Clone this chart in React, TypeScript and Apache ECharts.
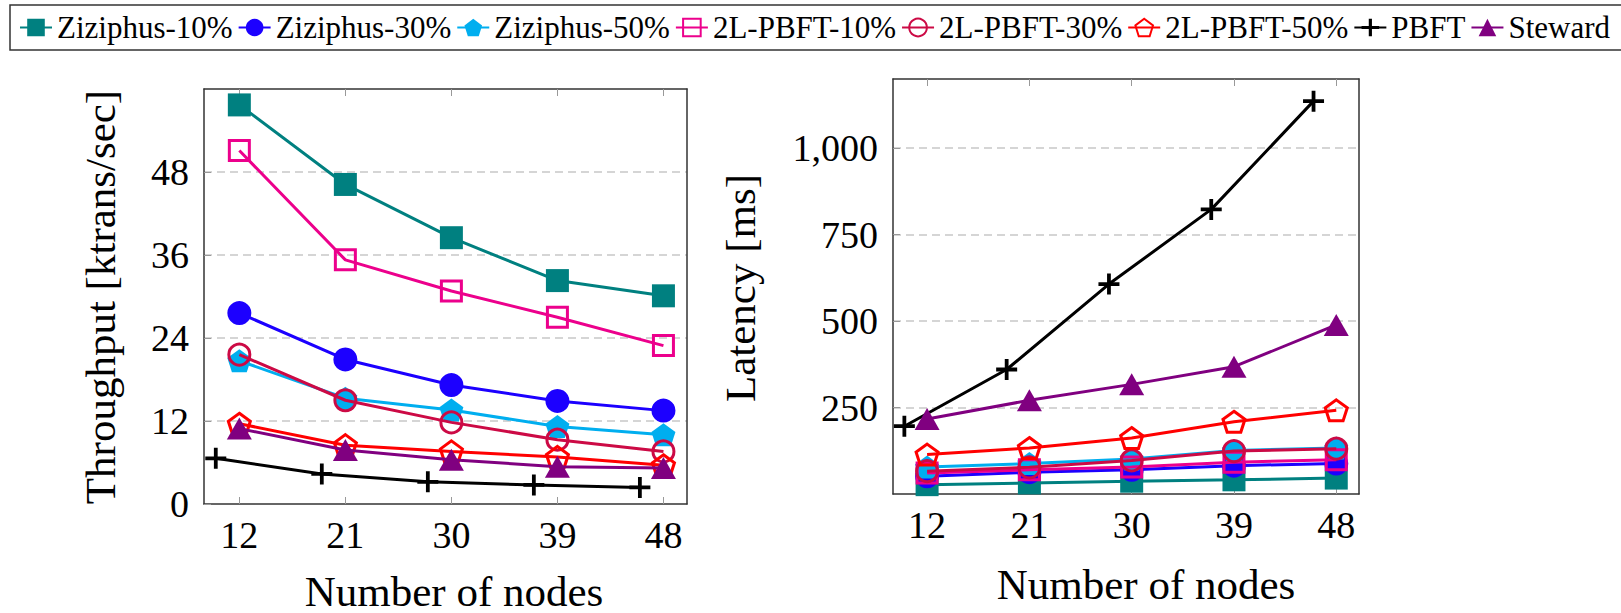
import React, { useEffect, useRef } from "react";
import * as echarts from "echarts";

const nodes = [12, 21, 30, 39, 48];
const pbftNodes = [10, 19, 28, 37, 46];
const xTicks = [12, 21, 30, 39, 48];

const seriesNames = [
  "Ziziphus-10%",
  "Ziziphus-30%",
  "Ziziphus-50%",
  "2L-PBFT-10%",
  "2L-PBFT-30%",
  "2L-PBFT-50%",
  "PBFT",
  "Steward",
];

// Throughput [ktrans/sec]
const thrZ10 = [57.7, 46.2, 38.5, 32.3, 30.1];
const thrZ30 = [27.6, 20.9, 17.2, 14.9, 13.5];
const thrZ50 = [20.7, 15.3, 13.6, 11.2, 10.0];
const thr2L10 = [51.1, 35.3, 30.8, 27.0, 22.9];
const thr2L30 = [21.6, 15.0, 11.8, 9.3, 7.6];
const thr2L50 = [11.6, 8.5, 7.6, 6.8, 5.6];
const thrPBFT = [6.6, 4.35, 3.2, 2.75, 2.4];
const thrSteward = [10.9, 7.8, 6.4, 5.4, 5.2];

// Latency [ms]
const latZ10 = [27, 32, 37, 41, 46];
const latZ30 = [51, 63, 70, 82, 88];
const latZ50 = [78, 88, 101, 126, 133];
const lat2L10 = [61, 70, 78, 92, 99];
const lat2L30 = [66, 77, 97, 124, 131];
const lat2L50 = [114, 133, 162, 209, 242];
const latPBFT = [196, 360, 607, 823, 1136];
const latSteward = [217, 271, 317, 368, 489];

const thrAll = [thrZ10, thrZ30, thrZ50, thr2L10, thr2L30, thr2L50, thrPBFT, thrSteward];
const latAll = [latZ10, latZ30, latZ50, lat2L10, lat2L30, lat2L50, latPBFT, latSteward];

const PENTAGON = "path://M0,-1L0.951,-0.309L0.588,0.809L-0.588,0.809L-0.951,-0.309Z";
const CROSS = "path://M-1.8,-10H1.8V-1.8H10V1.8H1.8V10H-1.8V1.8H-10V-1.8H-1.8Z";

const styles = [
  { color: "#008080", symbol: "rect", size: 23, filled: true },
  { color: "#1c00ff", symbol: "circle", size: 24, filled: true },
  { color: "#00aeef", symbol: PENTAGON, size: [24, 23], filled: true },
  { color: "#ec008c", symbol: "rect", size: 20, filled: false },
  { color: "#cc0a45", symbol: "circle", size: 21, filled: false },
  { color: "#ff0000", symbol: PENTAGON, size: [22, 21], filled: false },
  { color: "#000000", symbol: CROSS, size: 21, filled: true },
  { color: "#800080", symbol: "triangle", size: [25, 22], filled: true },
];

const FONT = "Liberation Serif";

function makeSeries(values: number[][], xAxisIndex: number, yAxisIndex: number) {
  return values.map((vals, i) => {
    const st = styles[i];
    const xs = seriesNames[i] === "PBFT" ? pbftNodes : nodes;
    return {
      name: seriesNames[i],
      type: "line",
      xAxisIndex,
      yAxisIndex,
      data: vals.map((v, j) => [xs[j], v]),
      symbol: st.symbol,
      symbolSize: st.size,
      showAllSymbol: true,
      lineStyle: { color: st.color, width: 3 },
      itemStyle: st.filled
        ? { color: st.color, borderWidth: 0, borderColor: st.color }
        : { color: "rgba(0,0,0,0)", borderColor: st.color, borderWidth: 3 },
      emphasis: { disabled: true },
      z: 2 + i,
    };
  });
}

const labelFont = { fontFamily: FONT, fontSize: 38, color: "#000" };

function xAxes(gridIndex: number) {
  const common = {
    type: "value",
    gridIndex,
    min: 9,
    max: 50,
    splitLine: { show: false },
    axisLine: { show: true, onZero: false, lineStyle: { color: "#333", width: 1.5 } },
    axisTick: {
      show: true,
      inside: true,
      length: 7,
      customValues: xTicks,
      lineStyle: { color: "#999", width: 1 },
    },
  };
  return [
    {
      ...common,
      position: "bottom",
      axisLabel: {
        show: true,
        customValues: xTicks,
        margin: 12,
        ...labelFont,
      },
    },
    {
      ...common,
      position: "top",
      axisLabel: { show: false },
    },
  ];
}

function yAxes(gridIndex: number, max: number, interval: number) {
  return [
    {
      type: "value",
      gridIndex,
      position: "left",
      min: 0,
      max,
      interval,
      axisLine: { show: true, onZero: false, lineStyle: { color: "#333", width: 1.5 } },
      axisTick: { show: true, inside: true, length: 7, lineStyle: { color: "#999" } },
      axisLabel: {
        show: true,
        margin: 15,
        showMaxLabel: false,
        showMinLabel: gridIndex === 0,
        ...labelFont,
        formatter: (v: number) => (v >= 1000 ? v.toLocaleString("en-US") : String(v)),
      },
      splitLine: {
        show: true,
        showMinLine: false,
        showMaxLine: false,
        lineStyle: { color: "#c8c8c8", width: 1.5, type: [8, 5] },
      },
    },
    {
      type: "value",
      gridIndex,
      position: "right",
      min: 0,
      max,
      interval,
      axisLine: { show: true, onZero: false, lineStyle: { color: "#333", width: 1.5 } },
      axisTick: { show: false },
      axisLabel: { show: false },
      splitLine: { show: false },
    },
  ];
}

function titleText(text: string, x: number, y: number, rotate: boolean) {
  return {
    type: "text",
    x,
    y,
    rotation: rotate ? Math.PI / 2 : 0,
    style: {
      text,
      fontFamily: FONT,
      fontSize: 43,
      fill: "#000",
      align: "center",
      verticalAlign: "middle",
    },
  };
}

export default function App() {
  const ref = useRef<HTMLDivElement>(null);

  useEffect(() => {
    document.body.style.margin = "0";
    if (!ref.current) return;
    const chart = echarts.init(ref.current, null, { renderer: "svg" });
    const option = {
      animation: false,
      backgroundColor: "#ffffff",
      textStyle: { fontFamily: FONT },
      legend: {
        data: seriesNames,
        left: 19,
        top: 12,
        width: 1610,
        itemWidth: 32,
        itemHeight: 22,
        itemGap: 5,
        padding: 0,
        selectedMode: false,
        textStyle: { fontFamily: FONT, fontSize: 31, color: "#000" },
      },
      grid: [
        { left: 204, top: 89, width: 483, height: 415, containLabel: false },
        { left: 893, top: 79, width: 466, height: 415, containLabel: false },
      ],
      xAxis: [...xAxes(0), ...xAxes(1)],
      yAxis: [...yAxes(0, 60, 12), ...yAxes(1, 1200, 250)],
      series: [...makeSeries(thrAll, 0, 0), ...makeSeries(latAll, 2, 2)],
      graphic: [
        {
          type: "rect",
          shape: { x: 10, y: 5, width: 1640, height: 45 },
          style: { fill: "none", stroke: "#333", lineWidth: 1.5 },
          silent: true,
        },
        titleText("Throughput [ktrans/sec]", 100, 297, true),
        titleText("Latency [ms]", 740, 288, true),
        titleText("Number of nodes", 454, 591, false),
        titleText("Number of nodes", 1146, 584, false),
      ],
    };
    chart.setOption(option as any);
    return () => chart.dispose();
  }, []);

  return <div ref={ref} style={{ width: "1621px", height: "613px" }} />;
}
